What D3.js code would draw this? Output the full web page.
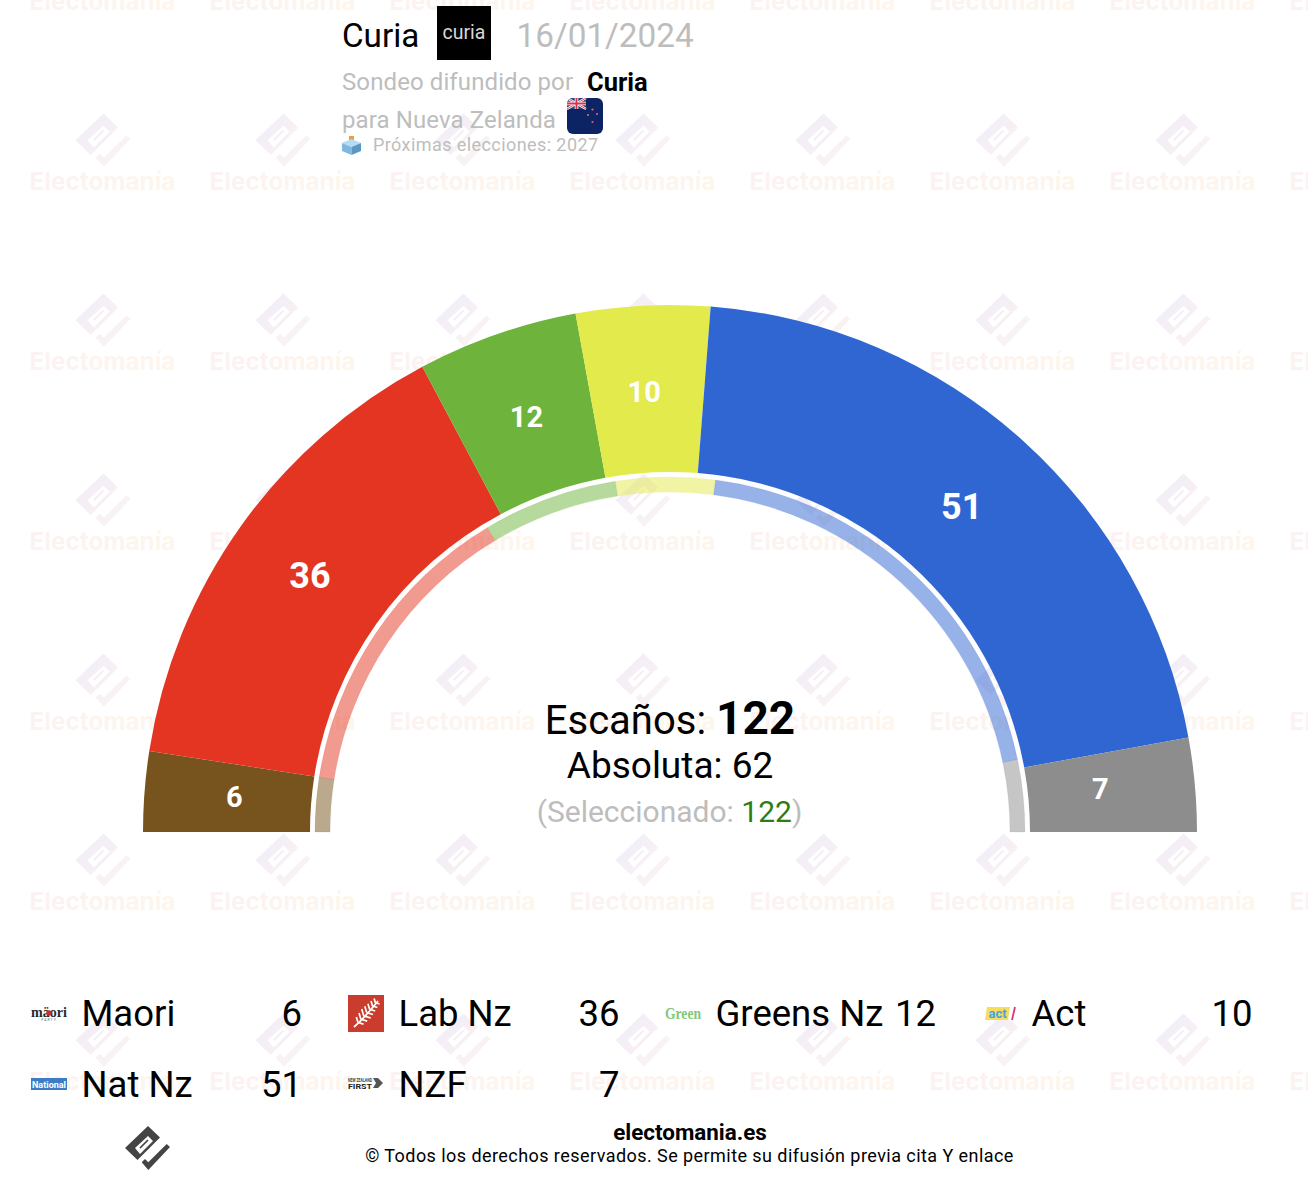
<!DOCTYPE html>
<html>
<head>
<meta charset="utf-8">
<script src="https://cdnjs.cloudflare.com/ajax/libs/d3/7.8.5/d3.min.js"></script>
<style>
html, body { margin: 0; padding: 0; background: #fff; }
svg { display: block; font-family: Roboto, sans-serif; }
</style>
</head>
<body>
<svg id="chart" width="1308" height="1184"></svg>
<script>
const parties = ["Maori", "Lab Nz", "Greens Nz", "Act", "Nat Nz", "NZF"];
const seats = [6, 36, 12, 10, 51, 7];
const previousSeats = [6, 34, 15, 11, 48, 8];
const colors = ["#77531d", "#e33522", "#6db33c", "#e3ea4c", "#3066d2", "#8d8d8d"];

const pollster = "Curia";
const pollDate = "16/01/2024";
const country = "Nueva Zelanda";
const nextElection = "2027";
const totalSeats = 122;
const majority = 62;
const selected = 122;

const svg = d3.select("#chart");
const defs = svg.append("defs");

// watermark colours
const wmGrad = defs.append("linearGradient").attr("id", "wm-logo")
    .attr("x1", 0).attr("y1", 0).attr("x2", 1).attr("y2", 1);
wmGrad.append("stop").attr("offset", "0%").attr("stop-color", "#f0ebf9");
wmGrad.append("stop").attr("offset", "100%").attr("stop-color", "#fdf5f0");
const wmText = defs.append("linearGradient").attr("id", "wm-text")
    .attr("x1", 0).attr("y1", 0).attr("x2", 1).attr("y2", 0);
wmText.append("stop").attr("offset", "0%").attr("stop-color", "#fbf2f2");
wmText.append("stop").attr("offset", "100%").attr("stop-color", "#fef6ec");

const logoPath = "M-23,-1 L0,-23 L12,-11.5 L-10.5,11 Z M-13,-1 L-8,5 L5,-8 L0,-13 Z";
const barPath = "M-8.6,-1.6 L-7.4,-0.4 L0.6,-8.4 L-0.6,-9.6 Z";
const tickPath = "M18.7,-5 L22,-2 L0.3,21 L-6.3,13.3 L-3,10 L0.3,13.3 Z";

function drawLogo(g, fill) {
    g.append("path").attr("d", logoPath).attr("fill", fill).attr("fill-rule", "evenodd");
    g.append("path").attr("d", barPath).attr("fill", fill);
    g.append("path").attr("d", tickPath).attr("fill", fill);
}

// watermark grid
const wm = svg.append("g");
d3.range(103, 1400, 180).forEach(x => {
    d3.range(-40, 1100, 180).forEach(y => {
        const g = wm.append("g").attr("transform", `translate(${x + 0.5},${y + 1.5}) scale(1.22)`);
        g.append("path").attr("d", logoPath + barPath + tickPath)
            .attr("fill", "url(#wm-logo)").attr("fill-rule", "evenodd");
        wm.append("text").attr("x", x - 0.5).attr("y", y + 50)
            .attr("text-anchor", "middle")
            .attr("font-family", "Inter, sans-serif")
            .attr("font-weight", 700).attr("font-size", 24.3)
            .attr("fill", "url(#wm-text)")
            .text("Electomanía");
    });
});

// header
svg.append("text").attr("x", 342).attr("y", 47).attr("font-size", 33.2).attr("fill", "#000").text(pollster);
const curia = svg.append("g").attr("transform", "translate(437,6)");
curia.append("rect").attr("width", 54).attr("height", 54).attr("fill", "#000");
curia.append("text").attr("x", 27).attr("y", 33).attr("text-anchor", "middle")
    .attr("font-size", 19.5).attr("fill", "#d8d8d8").text("curia");
svg.append("text").attr("x", 516.5).attr("y", 47).attr("font-size", 33.3).attr("fill", "#bdbdbd").text(pollDate);

svg.append("text").attr("x", 342).attr("y", 90).attr("font-size", 24).attr("letter-spacing", 0.1)
    .attr("fill", "#bdbdbd").text("Sondeo difundido por");
svg.append("text").attr("x", 587).attr("y", 91).attr("font-size", 25.5).attr("font-weight", 700)
    .attr("fill", "#000").text(pollster);
svg.append("text").attr("x", 342).attr("y", 128).attr("font-size", 24).attr("letter-spacing", 0.1)
    .attr("fill", "#bdbdbd").text("para " + country);

// flag
defs.append("clipPath").attr("id", "flag-clip").append("rect")
    .attr("width", 36).attr("height", 36).attr("rx", 6);
const flag = svg.append("g").attr("transform", "translate(567,98)").attr("clip-path", "url(#flag-clip)");
flag.append("rect").attr("width", 36).attr("height", 36).attr("fill", "#0c2463");
flag.append("rect").attr("width", 19).attr("height", 11).attr("fill", "#27407f");
flag.append("path").attr("d", "M0,0 L19,11 M19,0 L0,11").attr("stroke", "#fff").attr("stroke-width", 2.4);
flag.append("path").attr("d", "M0,0 L19,11 M19,0 L0,11").attr("stroke", "#d8344a").attr("stroke-width", 0.9);
flag.append("path").attr("d", "M9.5,0 V11 M0,5.5 H19").attr("stroke", "#fff").attr("stroke-width", 3.6);
flag.append("path").attr("d", "M9.5,0 V11 M0,5.5 H19").attr("stroke", "#d8344a").attr("stroke-width", 2);
[[25.5, 11.5], [21, 17], [30, 16], [25.5, 24]].forEach(s => {
    flag.append("circle").attr("cx", s[0]).attr("cy", s[1]).attr("r", 1.1).attr("fill", "#e8606e");
});

// ballot box
const box = svg.append("g").attr("transform", "translate(342,136)");
box.append("rect").attr("x", 7).attr("y", 0).attr("width", 5).attr("height", 6).attr("fill", "#e8a040");
box.append("path").attr("d", "M0,7 L9.5,3 L19,7 L9.5,11 Z").attr("fill", "#b5dcf2");
box.append("path").attr("d", "M0,7 L9.5,11 V19 L0,15 Z").attr("fill", "#7fb8de");
box.append("path").attr("d", "M19,7 L9.5,11 V19 L19,15 Z").attr("fill", "#5a97c4");
svg.append("text").attr("x", 373).attr("y", 151).attr("font-size", 18).attr("letter-spacing", 0.42)
    .attr("fill", "#bdbdbd").text("Próximas elecciones: " + nextElection);

// hemicycle
const cx = 670, cy = 832;
const pie = d3.pie().sort(null).startAngle(-Math.PI / 2).endAngle(Math.PI / 2);
const outerArc = d3.arc().innerRadius(360).outerRadius(527);
const ringArc = d3.arc().innerRadius(340).outerRadius(355);
const labelRadius = 443;
const labelNudge = [[6, -1], [1, 0], [2, 3], [-3, 2], [-5, 3], [-11, -4]];

const chart = svg.append("g").attr("transform", `translate(${cx},${cy})`);
chart.selectAll(".seat").data(pie(seats)).enter().append("path")
    .attr("class", "seat")
    .attr("d", outerArc)
    .attr("fill", (d, i) => colors[i]);
chart.selectAll(".ring").data(pie(previousSeats)).enter().append("path")
    .attr("class", "ring")
    .attr("d", ringArc)
    .attr("fill", (d, i) => colors[i])
    .attr("fill-opacity", 0.5)
    .attr("stroke", (d, i) => colors[i])
    .attr("stroke-opacity", 0.12);
chart.selectAll(".seat-label").data(pie(seats)).enter().append("text")
    .attr("class", "seat-label")
    .attr("x", (d, i) => Math.sin((d.startAngle + d.endAngle) / 2) * labelRadius + labelNudge[i][0])
    .attr("y", (d, i) => -Math.cos((d.startAngle + d.endAngle) / 2) * labelRadius + labelNudge[i][1])
    .attr("dy", "0.36em")
    .attr("text-anchor", "middle")
    .attr("font-weight", 700)
    .attr("font-size", d => d.data > 30 ? 36 : 29)
    .attr("fill", "#fff")
    .text(d => d.data);

// centre text
const t1 = svg.append("text").attr("x", cx).attr("y", 733.5).attr("text-anchor", "middle")
    .attr("font-size", 40).attr("fill", "#000");
t1.append("tspan").text("Escaños: ");
t1.append("tspan").attr("font-size", 46).attr("font-weight", 700).text(totalSeats);
svg.append("text").attr("x", cx).attr("y", 778).attr("text-anchor", "middle")
    .attr("font-size", 37).attr("fill", "#000").text("Absoluta: " + majority);
const t3 = svg.append("text").attr("x", 669.5).attr("y", 821.5).attr("text-anchor", "middle")
    .attr("font-size", 30).attr("fill", "#bdbdbd");
t3.append("tspan").text("(Seleccionado: ");
t3.append("tspan").attr("fill", "#2e7d14").text(selected);
t3.append("tspan").text(")");

// legend
const rowY = d3.scalePoint().domain([0, 1]).range([1026, 1097]);
const nameX = [82, 399, 716, 1032];
const valueEnd = [302, 619.5, 936, 1252.5];

const legend = svg.selectAll(".legend").data(parties).enter().append("g").attr("class", "legend")
    .attr("transform", (d, i) => `translate(0,${rowY(Math.floor(i / 4))})`);
legend.append("text")
    .attr("x", (d, i) => nameX[i % 4] - 0.5)
    .attr("font-size", 36.5).attr("fill", "#000").text(d => d);
legend.append("text")
    .attr("x", (d, i) => valueEnd[i % 4])
    .attr("text-anchor", "end")
    .attr("font-size", 36.5).attr("fill", "#000").text((d, i) => seats[i]);

// party logos
const maori = svg.append("g");
maori.append("text").attr("x", 31).attr("y", 1017)
    .attr("font-family", "Liberation Serif, serif").attr("font-weight", 700)
    .attr("textLength", 36).attr("lengthAdjust", "spacingAndGlyphs")
    .attr("font-size", 15).attr("fill", "#2a2a2a").text("mäori");
maori.append("circle").attr("cx", 49).attr("cy", 1013).attr("r", 2.8).attr("fill", "#c9302c");
maori.append("text").attr("x", 49).attr("y", 1021).attr("text-anchor", "middle")
    .attr("font-size", 3.5).attr("letter-spacing", 1).attr("fill", "#666").text("PARTY");

const lab = svg.append("g").attr("transform", "translate(348,995)");
lab.append("rect").attr("width", 36).attr("height", 37).attr("fill", "#c93c2e");
lab.append("path").attr("d", "M6,32 C13,26 22,16 30,6").attr("fill", "none").attr("stroke", "#fff").attr("stroke-width", 1.8);
d3.range(0, 7).forEach(i => {
    const px = 10 + i * 2.9, py = 27.5 - i * 3.3;
    const len = 7 - Math.abs(i - 2) * 0.7;
    lab.append("path").attr("d", `M${px},${py} l${-len * 0.3},${-len} M${px},${py} l${len},${len * 0.3}`)
        .attr("stroke", "#fff").attr("stroke-width", 1.7).attr("fill", "none");
});

svg.append("text").attr("x", 665).attr("y", 1019)
    .attr("font-family", "Liberation Serif, serif").attr("font-size", 16).attr("font-weight", 700)
    .attr("textLength", 36).attr("lengthAdjust", "spacingAndGlyphs")
    .attr("fill", "#82c878").text("Green");

const act = svg.append("g").attr("transform", "translate(986,1007)");
act.append("path").attr("d", "M1,0 H24 L22,13 H-1 Z").attr("fill", "#f6dd5e");
act.append("text").attr("x", 11.5).attr("y", 11).attr("text-anchor", "middle")
    .attr("font-size", 13).attr("font-weight", 700).attr("fill", "#4aa3df").text("act");
act.append("path").attr("d", "M29,0 L26,13").attr("stroke", "#e0337f").attr("stroke-width", 1.8);

const nat = svg.append("g").attr("transform", "translate(31,1078)");
nat.append("rect").attr("width", 36).attr("height", 12).attr("fill", "#3d7cc4");
nat.append("text").attr("x", 1).attr("y", 10).attr("textLength", 34).attr("lengthAdjust", "spacingAndGlyphs")
    .attr("font-size", 9.5).attr("font-weight", 700).attr("fill", "#fff").text("National");

const nzf = svg.append("g").attr("transform", "translate(348,1077)");
nzf.append("text").attr("x", 0).attr("y", 5).attr("textLength", 24).attr("lengthAdjust", "spacingAndGlyphs")
    .attr("font-size", 4.5).attr("font-weight", 700).attr("fill", "#444").text("NEW ZEALAND");
nzf.append("text").attr("x", 0).attr("y", 11.5).attr("textLength", 24).attr("lengthAdjust", "spacingAndGlyphs")
    .attr("font-size", 7.5).attr("font-weight", 700).attr("fill", "#222").text("FIRST");
nzf.append("path").attr("d", "M25,1 L30,1 L35,6 L30,11 L25,11 L28,6 Z").attr("fill", "#555");

// footer
const footLogo = svg.append("g").attr("transform", "translate(148,1149)");
drawLogo(footLogo, "#444");
svg.append("text").attr("x", 690).attr("y", 1139.5).attr("text-anchor", "middle")
    .attr("font-size", 22.4).attr("font-weight", 700).attr("fill", "#000").text("electomania.es");
svg.append("text").attr("x", 689.5).attr("y", 1162).attr("text-anchor", "middle")
    .attr("font-size", 18).attr("letter-spacing", 0.44).attr("fill", "#000")
    .text("© Todos los derechos reservados. Se permite su difusión previa cita Y enlace");
</script>
</body>
</html>
